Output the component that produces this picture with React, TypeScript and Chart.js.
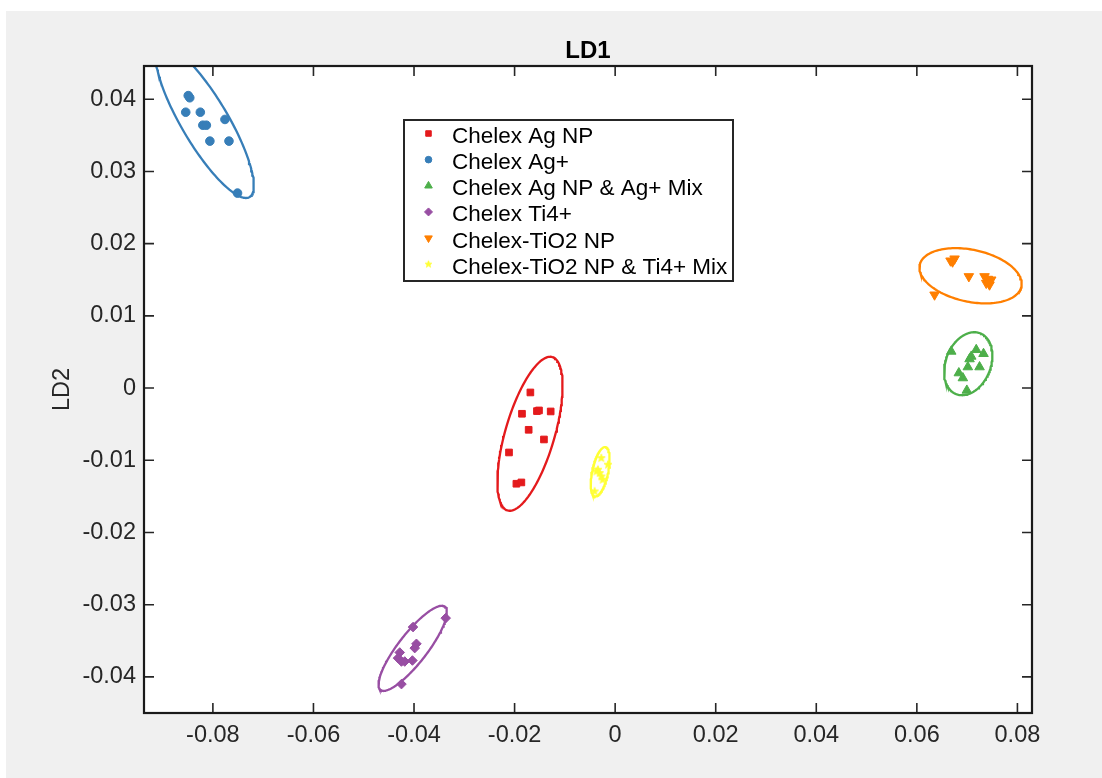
import React, { useEffect, useRef } from 'react';
import { Chart, registerables } from 'chart.js';
import { drawPoint } from 'chart.js/helpers';

Chart.register(...registerables);

// ---------- data ----------
const seriesNames = [
  'Chelex Ag NP',
  'Chelex Ag+',
  'Chelex Ag NP & Ag+ Mix',
  'Chelex Ti4+',
  'Chelex-TiO2 NP',
  'Chelex-TiO2 NP & Ti4+ Mix',
];
const seriesColors = ['#e41a1c', '#377eb8', '#4daf4a', '#984ea3', '#ff7f00', '#ffff33'];

const agNpX = [-0.01686, -0.01853, -0.01555, -0.01515, -0.01282, -0.0172, -0.01416, -0.02111, -0.01964, -0.01865];
const agNpY = [-0.00061, -0.00356, -0.00319, -0.0031, -0.00324, -0.00578, -0.00712, -0.00892, -0.01325, -0.01307];

const agIonX = [-0.0849, -0.0846, -0.0854, -0.0825, -0.0776, -0.082, -0.0813, -0.0806, -0.0768, -0.0751];
const agIonY = [0.0405, 0.0402, 0.0382, 0.0382, 0.0372, 0.0364, 0.0364, 0.0342, 0.0342, 0.027];

const agMixX = [0.06684, 0.07181, 0.07326, 0.07082, 0.07048, 0.07014, 0.07247, 0.06835, 0.06915, 0.06994];
const agMixY = [0.00507, 0.0053, 0.00475, 0.00438, 0.00402, 0.00291, 0.00291, 0.00208, 0.00139, -0.00033];

const tiIonX = [-0.0337, -0.0402, -0.03952, -0.03986, -0.04284, -0.04318, -0.0425, -0.04185, -0.04032, -0.0425];
const tiIonY = [-0.03186, -0.0331, -0.03542, -0.03601, -0.03662, -0.0374, -0.03787, -0.03787, -0.03773, -0.041];

const tio2X = [0.0667, 0.0675, 0.0671, 0.07034, 0.07346, 0.07412, 0.07479, 0.0738, 0.07445, 0.06352];
const tio2Y = [0.01763, 0.01791, 0.01749, 0.01546, 0.01546, 0.0151, 0.015, 0.01454, 0.01431, 0.01292];

const tiMixX = [-0.00276, -0.00143, -0.00342, -0.00308, -0.00274, -0.00374, -0.00249, -0.00408];
const tiMixY = [-0.0097, -0.01062, -0.01131, -0.01177, -0.01224, -0.01155, -0.0127, -0.01432];

// confidence ellipses: centre + two conjugate semi-axis vectors (data units)
const ellipseCX = [-0.01694, -0.0816, 0.07022, -0.04026, 0.07068, -0.00298];
const ellipseCY = [-0.00633, 0.0369, 0.00337, -0.03604, 0.01555, -0.01159];
const ellipseUX = [0.00446, 0.0089, 0.0024, 0.00641, 0.01011, 0.00105];
const ellipseUY = [0.01062, -0.01045, 0.00421, 0.00576, -0.0015, 0.00341];
const ellipseVX = [-0.0047, 0.00396, -0.00416, -0.00228, 0.00108, -0.00156];
const ellipseVY = [0.00096, 0.00165, 0.00115, 0.00123, 0.00352, 0.00023];

const xTickValues = [-0.08, -0.06, -0.04, -0.02, 0, 0.02, 0.04, 0.06, 0.08];
const yTickValues = [-0.04, -0.03, -0.02, -0.01, 0, 0.01, 0.02, 0.03, 0.04];
const xMin = -0.0937;
const xMax = 0.0829;
const yMin = -0.045;
const yMax = 0.0446;

const titleText = 'LD1';
const yLabelText = 'LD2';

const FONT = '"Liberation Sans", Arial, Helvetica, sans-serif';
const AXIS_COLOR = '#262626';

function makeStar(r: number, color: string): HTMLCanvasElement {
  const size = Math.ceil(r * 2 + 3);
  const c = document.createElement('canvas');
  c.width = size;
  c.height = size;
  const ctx = c.getContext('2d')!;
  ctx.beginPath();
  for (let i = 0; i < 10; i++) {
    const ang = -Math.PI / 2 + (i * Math.PI) / 5;
    const rr = i % 2 === 0 ? r : r * 0.42;
    ctx.lineTo(size / 2 + rr * Math.cos(ang), size / 2 + rr * Math.sin(ang));
  }
  ctx.closePath();
  ctx.fillStyle = color;
  ctx.fill();
  ctx.strokeStyle = color;
  ctx.lineWidth = 0.8;
  ctx.stroke();
  return c;
}

function ellipsePoints(i: number) {
  const pts: { x: number; y: number }[] = [];
  const n = 160;
  for (let k = 0; k <= n; k++) {
    const t = (2 * Math.PI * k) / n;
    pts.push({
      x: ellipseCX[i] + ellipseUX[i] * Math.cos(t) + ellipseVX[i] * Math.sin(t),
      y: ellipseCY[i] + ellipseUY[i] * Math.cos(t) + ellipseVY[i] * Math.sin(t),
    });
  }
  return pts;
}

const fmt = (v: number) => (Math.abs(v) < 1e-12 ? '0' : String(Number(v.toFixed(2))));

export default function App() {
  const ref = useRef<HTMLCanvasElement | null>(null);

  useEffect(() => {
    const canvas = ref.current;
    if (!canvas) return;

    const starPlot = makeStar(4.2, seriesColors[5]);
    const starLegend = makeStar(3.6, seriesColors[5]);

    const xs = [agNpX, agIonX, agMixX, tiIonX, tio2X, tiMixX];
    const ys = [agNpY, agIonY, agMixY, tiIonY, tio2Y, tiMixY];
    const styles: any[] = ['rect', 'circle', 'triangle', 'rectRot', 'triangle', starPlot];
    const legendStyles: any[] = ['rect', 'circle', 'triangle', 'rectRot', 'triangle', starLegend];
    const rotations = [0, 0, 0, 0, 180, 0];
    const radii = [4.7, 4.3, 5.5, 4.8, 5.5, 4.5];
    const legendRadii = [3.9, 3.3, 4.4, 4.0, 4.4, 4];

    const pointSets = xs.map((arr, i) => ({
      type: 'scatter' as const,
      label: seriesNames[i],
      data: arr.map((x, k) => ({ x, y: ys[i][k] })),
      pointStyle: styles[i],
      rotation: rotations[i],
      pointRadius: radii[i],
      pointBorderWidth: 1,
      backgroundColor: seriesColors[i],
      borderColor: seriesColors[i],
      showLine: false,
    }));

    const ellipseSets = seriesNames.map((name, i) => ({
      type: 'scatter' as const,
      label: name + ' ellipse',
      data: ellipsePoints(i),
      showLine: true,
      pointRadius: 0,
      borderWidth: 2.3,
      borderColor: seriesColors[i],
      backgroundColor: seriesColors[i],
      fill: false,
      tension: 0,
    }));

    const backgroundPlugin = {
      id: 'bg',
      beforeDraw(chart: any) {
        const { ctx, chartArea } = chart;
        ctx.save();
        ctx.fillStyle = '#ffffff';
        ctx.fillRect(0, 0, chart.width, chart.height);
        ctx.fillStyle = '#f0f0f0';
        ctx.fillRect(6, 11, chart.width - 6, chart.height - 11);
        ctx.fillStyle = '#ffffff';
        ctx.fillRect(chartArea.left, chartArea.top, chartArea.right - chartArea.left, chartArea.bottom - chartArea.top);
        ctx.restore();
      },
    };

    const framePlugin = {
      id: 'frame',
      afterDraw(chart: any) {
        const { ctx, chartArea } = chart;
        const { left, right, top, bottom } = chartArea;
        const xs2 = chart.scales.x;
        const ys2 = chart.scales.y;
        ctx.save();
        // ticks (inward, all four sides)
        ctx.strokeStyle = AXIS_COLOR;
        ctx.lineWidth = 1.6;
        const tl = 10;
        ctx.beginPath();
        xTickValues.forEach((v) => {
          const px = xs2.getPixelForValue(v);
          ctx.moveTo(px, bottom);
          ctx.lineTo(px, bottom - tl);
          ctx.moveTo(px, top);
          ctx.lineTo(px, top + tl);
        });
        yTickValues.forEach((v) => {
          const py = ys2.getPixelForValue(v);
          ctx.moveTo(left, py);
          ctx.lineTo(left + tl, py);
          ctx.moveTo(right, py);
          ctx.lineTo(right - tl, py);
        });
        ctx.stroke();
        // frame
        ctx.lineWidth = 2.2;
        ctx.strokeStyle = '#1a1a1a';
        ctx.strokeRect(left, top, right - left, bottom - top);

        // title
        ctx.fillStyle = '#000000';
        ctx.font = `bold 24px ${FONT}`;
        ctx.textAlign = 'center';
        ctx.textBaseline = 'alphabetic';
        ctx.fillText(titleText, (left + right) / 2, 58);

        // y label
        ctx.save();
        ctx.translate(69, (top + bottom) / 2 - 0);
        ctx.rotate(-Math.PI / 2);
        ctx.font = `23.5px ${FONT}`;
        ctx.fillStyle = AXIS_COLOR;
        ctx.textAlign = 'center';
        ctx.textBaseline = 'alphabetic';
        ctx.fillText(yLabelText, 0, 0);
        ctx.restore();

        // legend
        const lx = 404;
        const ly = 120;
        const lw = 329;
        const lh = 161;
        ctx.fillStyle = '#ffffff';
        ctx.fillRect(lx, ly, lw, lh);
        ctx.lineWidth = 2;
        ctx.strokeStyle = '#262626';
        ctx.strokeRect(lx, ly, lw, lh);
        ctx.font = `22.5px ${FONT}`;
        ctx.textAlign = 'left';
        ctx.textBaseline = 'alphabetic';
        seriesNames.forEach((name, i) => {
          const cy = 133.5 + i * 26.15;
          ctx.fillStyle = seriesColors[i];
          ctx.strokeStyle = seriesColors[i];
          ctx.lineWidth = 1;
          drawPoint(ctx, {
            pointStyle: legendStyles[i],
            rotation: rotations[i],
            radius: legendRadii[i],
            borderWidth: 1,
          } as any, 428.5, cy);
          ctx.fillStyle = '#000000';
          ctx.fillText(name, 452, cy + 9.5);
        });
        ctx.restore();
      },
    };

    const tickFont = { family: FONT, size: 23.5 };

    const chart = new Chart(canvas, {
      type: 'scatter',
      data: { datasets: [...pointSets, ...ellipseSets] as any },
      options: {
        responsive: false,
        animation: false,
        devicePixelRatio: 1,
        layout: { padding: { left: 0, top: 66, right: 70, bottom: 0 } },
        plugins: {
          legend: { display: false },
          title: { display: false },
          tooltip: { enabled: false },
        },
        scales: {
          x: {
            type: 'linear',
            position: 'bottom',
            min: xMin,
            max: xMax,
            grid: { display: false, drawTicks: false },
            border: { display: false },
            ticks: {
              padding: 8,
              font: tickFont,
              color: AXIS_COLOR,
              maxRotation: 0,
              autoSkip: false,
              callback: (v: any) => fmt(Number(v)),
            },
            afterBuildTicks: (s: any) => {
              s.ticks = xTickValues.map((v) => ({ value: v }));
            },
            afterFit: (s: any) => {
              s.height = 65;
            },
          },
          y: {
            type: 'linear',
            position: 'left',
            min: yMin,
            max: yMax,
            grid: { display: false, drawTicks: false },
            border: { display: false },
            ticks: {
              padding: 8,
              font: tickFont,
              color: AXIS_COLOR,
              autoSkip: false,
              callback: (v: any) => fmt(Number(v)),
            },
            afterBuildTicks: (s: any) => {
              s.ticks = yTickValues.map((v) => ({ value: v }));
            },
            afterFit: (s: any) => {
              s.width = 144;
            },
          },
        },
      } as any,
      plugins: [backgroundPlugin, framePlugin],
    });

    return () => {
      chart.destroy();
    };
  }, []);

  return (
    <div style={{ position: 'absolute', left: 0, top: 0, width: 1102, height: 778 }}>
      <canvas ref={ref} width={1102} height={778} style={{ width: 1102, height: 778, display: 'block' }} />
    </div>
  );
}
